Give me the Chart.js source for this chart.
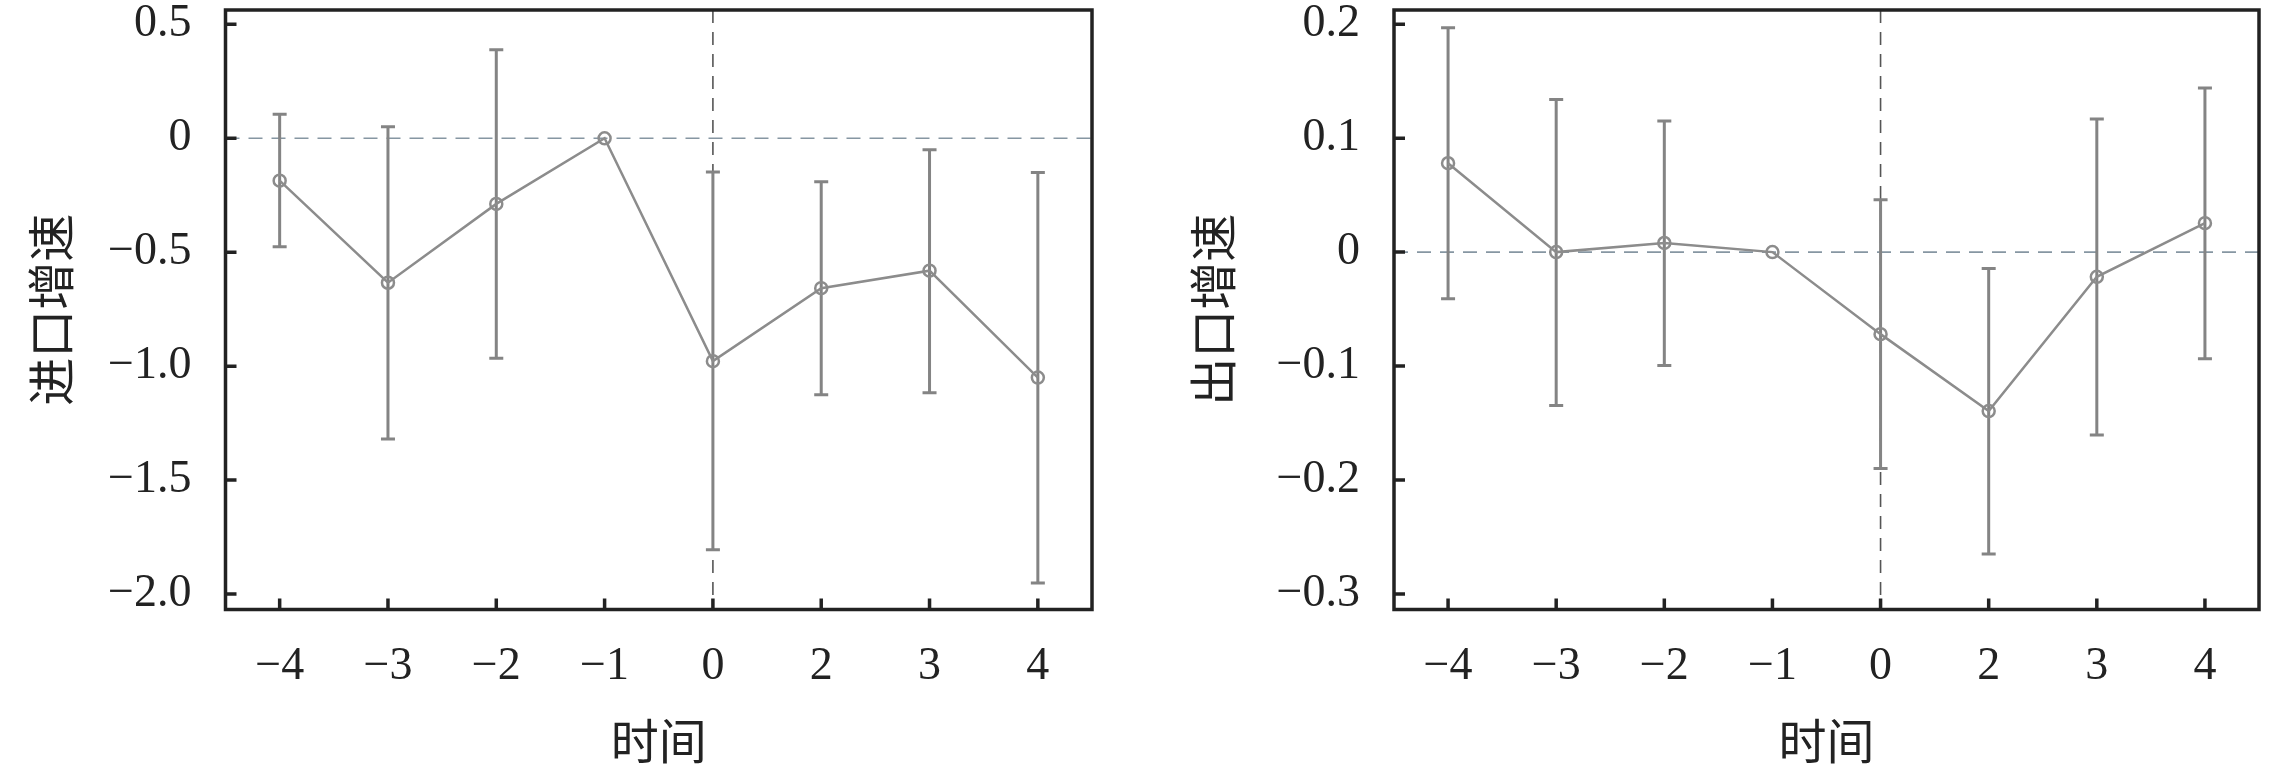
<!DOCTYPE html>
<html>
<head>
<meta charset="utf-8">
<script src="https://cdn.jsdelivr.net/npm/chart.js@4/dist/chart.umd.min.js"></script>
<style>
  html, body { margin: 0; padding: 0; background: #fff; }
  #wrap { position: relative; width: 2283px; height: 766px; background: #fff; }
  canvas { position: absolute; top: 0; }
</style>
</head>
<body>
<div id="wrap">
  <canvas id="c1" width="1150" height="766" style="left:0px"></canvas>
  <canvas id="c2" width="1133" height="766" style="left:1150px"></canvas>
</div>
<script>
// ---- data ----
const categories = ['\u22124', '\u22123', '\u22122', '\u22121', '0', '2', '3', '4'];

const importCoef = [-0.186, -0.634, -0.288, 0, -0.978, -0.658, -0.581, -1.050];
const importLow  = [-0.476, -1.320, -0.965, null, -1.806, -1.125, -1.117, -1.952];
const importHigh = [ 0.105,  0.051,  0.389, null, -0.148, -0.191, -0.050, -0.150];

const exportCoef = [0.078, 0.000, 0.008, 0, -0.072, -0.1395, -0.0217, 0.0254];
const exportLow  = [-0.041, -0.1346, -0.0995, null, -0.190, -0.265, -0.1605, -0.0937];
const exportHigh = [ 0.197,  0.134,  0.115, null, 0.046, -0.0144, 0.1168, 0.144];

const importTicks = [0.5, 0, -0.5, -1.0, -1.5, -2.0];
const exportTicks = [0.2, 0.1, 0, -0.1, -0.2, -0.3];

const importTitle = '进口增速';
const exportTitle = '出口增速';
const xTitle = '时间';

// ---- helpers ----
function fmt(v, dec) {
  if (Math.abs(v) < 1e-9) return '0';
  const s = Math.abs(v).toFixed(dec);
  return (v < 0 ? '\u2212' : '') + s;
}

const decorPlugin = {
  id: 'decor',
  beforeDatasetsDraw(chart, args, opts) {
    const ctx = chart.ctx;
    const a = chart.chartArea;
    const xs = chart.scales.x, ys = chart.scales.y;
    ctx.save();
    // horizontal zero line
    const y0 = ys.getPixelForValue(0);
    ctx.strokeStyle = '#8696a2';
    ctx.lineWidth = 1.6;
    ctx.setLineDash([14, 9]);
    ctx.beginPath();
    ctx.moveTo(a.left, y0);
    ctx.lineTo(a.right, y0);
    ctx.stroke();
    // vertical line at event time
    const xi = xs.getPixelForValue(categories.indexOf('0'));
    ctx.strokeStyle = '#555';
    ctx.setLineDash([13, 9]);
    ctx.beginPath();
    ctx.moveTo(xi, a.top);
    ctx.lineTo(xi, a.bottom);
    ctx.stroke();
    ctx.setLineDash([]);
    // error bars
    const lo = opts.low, hi = opts.high;
    ctx.strokeStyle = '#848484';
    ctx.lineWidth = 3;
    for (let i = 0; i < categories.length; i++) {
      if (lo[i] == null || hi[i] == null) continue;
      const x = xs.getPixelForValue(i);
      const yl = ys.getPixelForValue(lo[i]);
      const yh = ys.getPixelForValue(hi[i]);
      ctx.beginPath();
      ctx.moveTo(x, yl); ctx.lineTo(x, yh);
      ctx.moveTo(x - 7, yl); ctx.lineTo(x + 7, yl);
      ctx.moveTo(x - 7, yh); ctx.lineTo(x + 7, yh);
      ctx.stroke();
    }
    ctx.restore();
  },
  afterDraw(chart) {
    const ctx = chart.ctx;
    const a = chart.chartArea;
    const xs = chart.scales.x, ys = chart.scales.y;
    ctx.save();
    ctx.strokeStyle = '#222';
    ctx.lineWidth = 3.5;
    ctx.strokeRect(a.left, a.top, a.right - a.left, a.bottom - a.top);
    ctx.beginPath();
    ys.ticks.forEach(t => {
      const y = ys.getPixelForValue(t.value);
      ctx.moveTo(a.left, y); ctx.lineTo(a.left + 11, y);
    });
    xs.ticks.forEach((t, i) => {
      const x = xs.getPixelForTick(i);
      ctx.moveTo(x, a.bottom); ctx.lineTo(x, a.bottom - 11);
    });
    ctx.stroke();
    ctx.restore();
  }
};

function zeroPad(s) {
  s.paddingTop = 0; s.paddingBottom = 0; s.paddingLeft = 0; s.paddingRight = 0;
}

function makeChart(id, coef, low, high, ticks, dec, yMin, yMax, yTitle, padLeft, yWidth, padRight) {
  return new Chart(document.getElementById(id), {
    type: 'line',
    data: {
      labels: categories,
      datasets: [{
        data: coef,
        borderColor: '#8c8c8c',
        borderWidth: 2.5,
        pointRadius: 6,
        pointBorderWidth: 2.5,
        pointBorderColor: '#8c8c8c',
        pointBackgroundColor: 'rgba(0,0,0,0)',
        tension: 0,
        fill: false
      }]
    },
    options: {
      responsive: false,
      animation: false,
      devicePixelRatio: 1,
      layout: { padding: { left: padLeft, top: 10, right: padRight, bottom: 0 } },
      plugins: {
        legend: { display: false },
        tooltip: { enabled: false },
        decor: { low: low, high: high }
      },
      scales: {
        x: {
          type: 'category',
          offset: true,
          grid: { display: false, drawTicks: false },
          border: { display: false },
          ticks: {
            color: '#222',
            padding: 30,
            maxRotation: 0,
            autoSkip: false,
            font: { family: '"Liberation Serif", "Times New Roman", serif', size: 46 }
          },
          title: {
            display: true,
            text: xTitle,
            color: '#222',
            padding: { top: 0, bottom: 1 },
            font: { family: '"Noto Sans CJK SC", sans-serif', size: 48, lineHeight: 1.0 }
          },
          afterFit: s => { s.height = 156.5; zeroPad(s); }
        },
        y: {
          type: 'linear',
          min: yMin,
          max: yMax,
          grid: { display: false, drawTicks: false },
          border: { display: false },
          afterBuildTicks: s => { s.ticks = ticks.map(v => ({ value: v })); },
          ticks: {
            color: '#222',
            padding: 34,
            font: { family: '"Liberation Serif", "Times New Roman", serif', size: 46 },
            callback: v => fmt(v, dec)
          },
          title: {
            display: true,
            text: yTitle,
            color: '#222',
            padding: { top: 0, bottom: 0 },
            font: { family: '"Noto Sans CJK SC", sans-serif', size: 48, lineHeight: 1.0 }
          },
          afterFit: s => { s.width = yWidth; zeroPad(s); }
        }
      }
    },
    plugins: [decorPlugin]
  });
}

makeChart('c1', importCoef, importLow, importHigh, importTicks, 1, -2.068, 0.563, importTitle, 27, 198.5, 58);
makeChart('c2', exportCoef, exportLow, exportHigh, exportTicks, 1, -0.3137, 0.2125, exportTitle, 39, 205, 24);
</script>
</body>
</html>
